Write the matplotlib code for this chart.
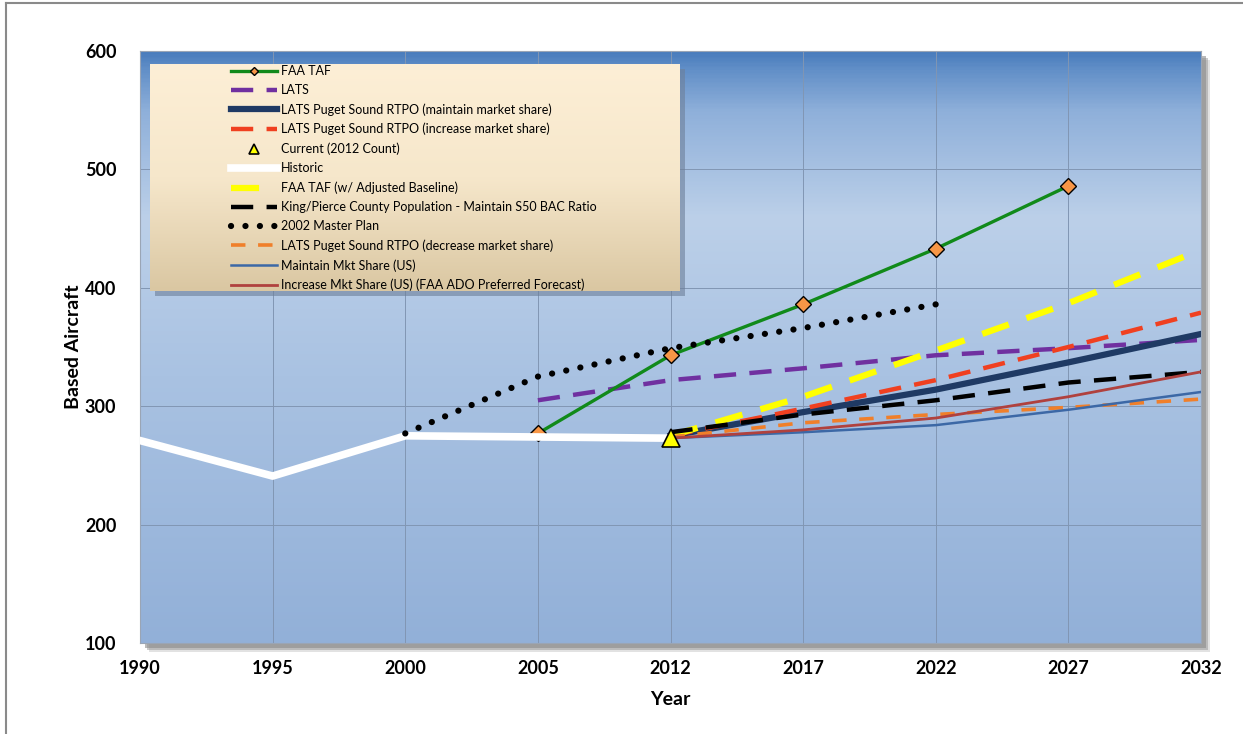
import matplotlib.pyplot as plt
import numpy as np
from matplotlib.colors import LinearSegmentedColormap
from matplotlib.lines import Line2D
from matplotlib.patches import Rectangle

plt.rcParams['font.family'] = ['Lato', 'DejaVu Sans']

nan = np.nan
years = ['1990', '1995', '2000', '2005', '2012', '2017', '2022', '2027', '2032']

historic = [271, 241, 275, 274, 273, nan, nan, nan, nan]
faa_taf = [nan, nan, nan, 277, 343, 386, 433, 486, nan]
lats = [nan, nan, nan, 305, 322, 332, 343, 349, 356]
rtpo_maintain = [nan, nan, nan, nan, 275, 295, 314, 337, 361]
rtpo_increase = [nan, nan, nan, nan, 275, 298, 322, 350, 379]
rtpo_decrease = [nan, nan, nan, nan, 274, 286, 293, 299, 306]
current_2012 = [nan, nan, nan, nan, 273, nan, nan, nan, nan]
taf_adjusted = [nan, nan, nan, nan, 275, 308, 347, 387, 432]
king_pierce = [nan, nan, nan, nan, 278, 293, 305, 320, 329]
master_plan_2002 = [nan, nan, 277, 325, 349, 366, 386, nan, nan]
us_maintain = [nan, nan, nan, nan, 273, 278, 284, 297, 312]
us_increase = [nan, nan, nan, nan, 273, 280, 290, 308, 329]

W, H = 1243, 734
fig = plt.figure(figsize=(W / 100, H / 100), dpi=100)
fig.patch.set_facecolor('white')

# plot area in pixels (left, top, right, bottom)
px_l, px_t, px_r, px_b = 140, 51, 1201, 643
ax = fig.add_axes([px_l / W, 1 - px_b / H, (px_r - px_l) / W, (px_b - px_t) / H])

# drop shadow behind plot area
for off, alpha in [(9, 0.25), (7, 0.45), (5, 0.6)]:
    fig.patches.append(Rectangle(((px_l + off) / W, 1 - (px_b + off) / H),
                                 (px_r - px_l) / W, (px_b - px_t) / H,
                                 transform=fig.transFigure, color='#8c8c8c',
                                 alpha=alpha, zorder=-1, lw=0))

# outer frame lines (left and top)
fig.add_artist(Line2D([6 / W, 6 / W], [0, 1 - 3 / H], transform=fig.transFigure,
                      color='#8a8a8a', lw=1.5))
fig.add_artist(Line2D([6 / W, 1], [1 - 3 / H, 1 - 3 / H], transform=fig.transFigure,
                      color='#8a8a8a', lw=1.5))

# blue gradient background
bg = LinearSegmentedColormap.from_list('bg', [
    (0.0, '#92b0d8'), (0.45, '#a9c2e2'), (0.72, '#bcd0e9'),
    (0.9, '#8fb0da'), (0.97, '#6390c8'), (1.0, '#4a7dbd')])
grad = np.linspace(0, 1, 400).reshape(-1, 1)
ax.imshow(grad, extent=[0, 1, 0, 1], transform=ax.transAxes, cmap=bg,
          origin='lower', aspect='auto', zorder=0)

x = np.arange(len(years))

ax.plot(x, faa_taf, color='#118a1a', lw=2.4, marker='D', ms=8,
        mfc='#f79646', mec='black', mew=1.0, zorder=4, label='FAA TAF')
ax.plot(x, lats, color='#7030a0', lw=3.2, dashes=(5, 3), zorder=3, label='LATS')
ax.plot(x, rtpo_maintain, color='#1f3a64', lw=4.5, zorder=3,
        label='LATS Puget Sound RTPO (maintain market share)')
ax.plot(x, rtpo_increase, color='#f04020', lw=3.2, dashes=(5, 3), zorder=3,
        label='LATS Puget Sound RTPO (increase market share)')
ax.plot(x, current_2012, ls='none', marker='^', ms=13, mfc='#ffff00', mec='black',
        mew=1.2, zorder=6, label='Current (2012 Count)')
ax.plot(x, historic, color='white', lw=5.5, zorder=5, label='Historic')
ax.plot(x, taf_adjusted, color='#ffff00', lw=4.5, dashes=(4.5, 3), zorder=3,
        label='FAA TAF (w/ Adjusted Baseline)')
ax.plot(x, king_pierce, color='black', lw=3.2, dashes=(5, 3), zorder=3,
        label='King/Pierce County Population - Maintain S50 BAC Ratio')
ax.plot(x, master_plan_2002, color='black', lw=4.5, ls=(0, (0.01, 2.3)),
        dash_capstyle='round', solid_capstyle='round', zorder=6,
        label='2002 Master Plan')
ax.plot(x, rtpo_decrease, color='#f07f2a', lw=2.6, dashes=(4, 3.5), zorder=3,
        label='LATS Puget Sound RTPO (decrease market share)')
ax.plot(x, us_maintain, color='#3c68a6', lw=1.8, zorder=3,
        label='Maintain Mkt Share (US)')
ax.plot(x, us_increase, color='#b0413e', lw=2.0, zorder=3,
        label='Increase Mkt Share (US) (FAA ADO Preferred Forecast)')

ax.set_xlim(0, len(years) - 1)
ax.set_ylim(100, 600)
ax.set_xticks(x)
ax.set_xticklabels(years)
ax.set_yticks(np.arange(100, 601, 100))
ax.grid(True, color='#8196b3', lw=0.7, zorder=1)
ax.set_axisbelow(True)
ax.tick_params(length=0, labelsize=13)
ax.tick_params(axis='y', pad=17)
ax.tick_params(axis='x', pad=12)
for lbl in ax.get_xticklabels() + ax.get_yticklabels():
    lbl.set_fontweight('bold')
for s in ax.spines.values():
    s.set_color('#9aa5b5')
    s.set_linewidth(0.8)

ax.set_xlabel('Year', fontsize=14, fontweight='bold', labelpad=10)
ax.set_ylabel('Based Aircraft', fontsize=14, fontweight='bold', labelpad=2)


def to_ax(px, py):
    return (px - px_l) / (px_r - px_l), (px_b - py) / (px_b - px_t)


# legend box with cream gradient and shadow
lx0, ly1 = to_ax(150, 64)
lx1, ly0 = to_ax(680, 291)
sx, sy = 5 / (px_r - px_l), 5 / (px_b - px_t)
ax.add_patch(Rectangle((lx0 + sx, ly0 - sy), lx1 - lx0, ly1 - ly0,
                       transform=ax.transAxes, color='#6d7f99', alpha=0.6,
                       lw=0, zorder=7))
cream = LinearSegmentedColormap.from_list('cream', ['#dac7a2', '#f6e7cb', '#fdefd6'])
ax.imshow(grad, extent=[lx0, lx1, ly0, ly1], transform=ax.transAxes, cmap=cream,
          origin='lower', aspect='auto', zorder=8)

hx, hy = to_ax(231, 65)
leg = ax.legend(loc='upper left', bbox_to_anchor=(hx, hy), frameon=False,
                fontsize=9, handlelength=3.7, handletextpad=0.3,
                labelspacing=0.57, borderpad=0.0, borderaxespad=0.0,
                markerscale=0.55)
leg.set_zorder(9)

ax.set_xlim(0, len(years) - 1)
ax.set_ylim(100, 600)

fig.savefig('out.png', dpi=100)
